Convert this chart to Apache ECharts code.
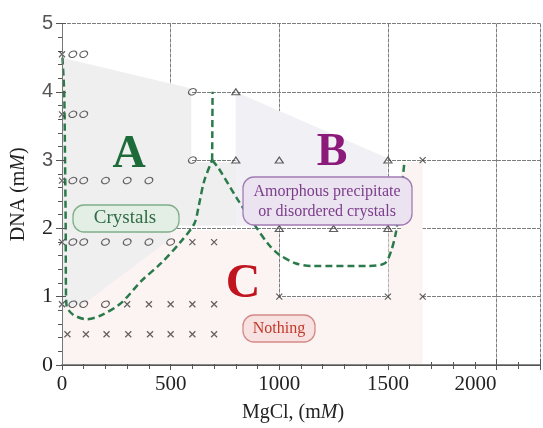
<!DOCTYPE html>
<html><head><meta charset="utf-8">
<script src="https://cdn.jsdelivr.net/npm/echarts@6/dist/echarts.min.js"></script>
<style>html,body{margin:0;padding:0;background:#fff}#c{width:543px;height:428px}</style>
</head><body><div id="c"></div>
<script>
// ---- tick labels ----
const xTickLabels = [0, 500, 1000, 1500, 2000];
const yTickLabels = [0, 1, 2, 3, 4, 5];

// ---- experimental points (MgCl mM, DNA mM) ----
const circlePts = [
  [50,4.55],[100,4.55],
  [50,3.67],[100,3.67],
  [50,2.7],[100,2.7],[200,2.7],[300,2.7],[400,2.7],
  [50,1.8],[100,1.8],[200,1.8],[300,1.8],[400,1.8],[500,1.8],
  [50,0.89],[100,0.89],[200,0.89],
  [600,4],[600,3]
];
const crossPts = [
  [0,4.55],[0,3.67],[0,2.7],
  [0,1.8],[600,1.8],[700,1.8],
  [0,0.89],[300,0.89],[400,0.89],[500,0.89],[600,0.89],[700,0.89],
  [25,0.45],[110,0.45],[205,0.45],[305,0.45],[405,0.45],[500,0.45],[600,0.45],[700,0.45],
  [1000,1],[1500,1],[1660,1],[1660,3]
];
const trianglePts = [
  [800,4],[800,3],[1000,3],[1500,3],[1000,2],[1250,2],[1500,2]
];

// ---- dashed phase boundary ----
const boundaryLeft = [
  [2,4.5],[10,4.0],[14,3.0],[17,2.0],[18,1.15],[21,0.87],[50,0.74],[113,0.67],
  [182,0.73],[273,0.91],[365,1.23],[456,1.49],[548,1.81],[609,2.07],[630,2.34],
  [654,2.69],[691,3.0]
];
const boundaryStem = [[691,3.0],[693,4.0]];
const boundaryRight = [
  [691,3.0],[723,2.87],[805,2.44],[891,2.03],[952,1.76],[998,1.62],[1074,1.49],
  [1149,1.45],[1410,1.45],[1486,1.49],[1515,1.67],[1538,1.96],[1560,2.5],[1577,3.0]
];

// ---- shaded regions ----
const regionC = [[0,0.015],[1660,0.015],[1660,2.97],[1560,2.97],[1560,1.97],[1503,1.97],
  [1503,0.985],[997,0.985],[997,1.97],[0,1.97]];
const regionA = [[0,4.5],[595,4.05],[595,2.97],[801,2.97],[801,2.04],[500,2.04],[500,1.85],
  [90,0.87],[0,0.87]];
const regionB = [[799,4.0],[1497,3.03],[1497,2.04],[799,2.04]];

const regions = [
  {pts: regionC, fill: '#fcf3f3'},
  {pts: regionA, fill: '#efefef'},
  {pts: regionB, fill: '#f1f1f5'}
];

const chart = echarts.init(document.getElementById('c'), null, {renderer: 'canvas'});
const serif = '"Liberation Serif", "DejaVu Serif", serif';
const sans = '"Liberation Sans", "DejaVu Sans", sans-serif';
const gridCol = '#7d7d7d';
const markCol = '#3a3a3a';
const green = '#2b7a4b';

function markerSeries(data, symbol, size, rotate) {
  return {
    type: 'scatter', data: data, symbol: symbol, symbolSize: size, symbolRotate: rotate || 0,
    silent: true, z: 4,
    itemStyle: {color: 'rgba(0,0,0,0)', borderColor: markCol, borderWidth: 1.2}
  };
}
function boundarySeries(data) {
  return {
    type: 'line', data: data, showSymbol: false, smooth: 0.3, silent: true, z: 3,
    lineStyle: {color: green, width: 2.5, type: [7, 4]}
  };
}

const option = {
  animation: false,
  grid: {left: 62, right: 0, top: 23.5, bottom: 60},
  xAxis: [
    {
      type: 'value', min: 0, max: 2200, interval: 500, position: 'bottom',
      name: 'MgCl, (m{i|M})', nameLocation: 'middle', nameGap: 38,
      nameTextStyle: {fontFamily: serif, fontSize: 20, color: '#222', padding: [0, 16, 0, 0],
        rich: {i: {fontFamily: serif, fontSize: 20, fontStyle: 'italic', color: '#222'}}},
      axisLine: {show: true, lineStyle: {color: '#888', width: 2}},
      axisTick: {show: true, inside: true, length: 6, lineStyle: {color: '#555'}},
      minorTick: {show: true, splitNumber: 5, length: 3, lineStyle: {color: '#555'}},
      splitLine: {show: false},
      axisLabel: {
        margin: 9, fontFamily: serif, fontSize: 21, color: '#222',
        formatter: function (v) {
          if (xTickLabels.indexOf(v) < 0) return '';
          if (v === 2000) return '{sh|' + v + '}';
          return String(v);
        },
        rich: {sh: {fontFamily: serif, fontSize: 21, color: '#222', padding: [0, 42, 0, 0]}}
      }
    },
    {
      type: 'value', min: 0, max: 2200, interval: 500, position: 'top',
      axisLine: {show: true, lineStyle: {color: '#555', width: 1}},
      axisTick: {show: true, inside: true, length: 5, lineStyle: {color: '#555'}},
      minorTick: {show: true, splitNumber: 5, length: 4, lineStyle: {color: '#555'}},
      axisLabel: {show: false},
      splitLine: {show: true, lineStyle: {color: gridCol, width: 1, type: [4, 1]}}
    }
  ],
  yAxis: [
    {
      type: 'value', min: 0, max: 5, interval: 1, position: 'left', z: 10,
      name: 'DNA (m{i|M})', nameLocation: 'middle', nameGap: 33, nameRotate: 90,
      nameTextStyle: {fontFamily: serif, fontSize: 20, color: '#222',
        rich: {i: {fontFamily: serif, fontSize: 20, fontStyle: 'italic', color: '#222'}}},
      axisLine: {show: true, lineStyle: {color: '#777', width: 1}},
      axisTick: {show: true, inside: true, length: 4, lineStyle: {color: '#555'}},
      splitLine: {show: false},
      axisLabel: {
        margin: 9, color: '#222',
        formatter: function (v) {
          if (yTickLabels.indexOf(v) < 0) return '';
          return v >= 3 ? '{s|' + v + '}' : '{t|' + v + '}';
        },
        rich: {
          s: {fontFamily: sans, fontSize: 20, color: '#555'},
          t: {fontFamily: serif, fontSize: 22, color: '#222'}
        }
      }
    },
    {
      type: 'value', min: 0, max: 5, interval: 1, position: 'right',
      axisLine: {show: true, lineStyle: {color: '#555', width: 1}},
      axisTick: {show: true, inside: true, length: 6, lineStyle: {color: '#555'}},
      minorTick: {show: true, splitNumber: 5, length: 4, lineStyle: {color: '#555'}},
      axisLabel: {show: false},
      splitLine: {show: true, lineStyle: {color: gridCol, width: 1, type: [4, 1]}}
    }
  ],
  series: [
    {
      type: 'custom', silent: true, z: 1,
      data: regions.map(function (r, i) { return [i]; }),
      renderItem: function (params, api) {
        const r = regions[api.value(0)];
        return {
          type: 'polygon',
          shape: {points: r.pts.map(function (p) { return api.coord(p); })},
          style: {fill: r.fill}
        };
      }
    },
    boundarySeries(boundaryLeft),
    boundarySeries(boundaryStem),
    boundarySeries(boundaryRight),
    markerSeries(circlePts, 'circle', [8, 6], 25),
    markerSeries(crossPts, 'path://M0,0L10,10M10,0L0,10', 6, 0),
    markerSeries(trianglePts, 'triangle', [8, 6], 0)
  ],
  graphic: {
    elements: [
      {type: 'rect', z: 100, shape: {x: 73, y: 205, width: 106, height: 27, r: 11},
        style: {fill: '#e3efe5', stroke: '#7fae89', lineWidth: 1.3}},
      {type: 'text', z: 101, style: {text: 'Crystals', x: 125, y: 218, font: '19px ' + serif,
        fill: '#2f6b45', align: 'center', verticalAlign: 'middle', textAlign: 'center', textVerticalAlign: 'middle'}},
      {type: 'rect', z: 100, shape: {x: 243, y: 177, width: 169, height: 48, r: 11},
        style: {fill: '#ece3f0', stroke: '#a17cb4', lineWidth: 1.3}},
      {type: 'text', z: 101, style: {text: 'Amorphous precipitate', x: 327, y: 192, font: '16px ' + serif,
        fill: '#7a3d8a', align: 'center', verticalAlign: 'middle', textAlign: 'center', textVerticalAlign: 'middle'}},
      {type: 'text', z: 101, style: {text: 'or disordered crystals', x: 327, y: 212, font: '16px ' + serif,
        fill: '#7a3d8a', align: 'center', verticalAlign: 'middle', textAlign: 'center', textVerticalAlign: 'middle'}},
      {type: 'rect', z: 100, shape: {x: 243, y: 315, width: 72, height: 27, r: 11},
        style: {fill: '#f8e2e1', stroke: '#d48a86', lineWidth: 1.3}},
      {type: 'text', z: 101, style: {text: 'Nothing', x: 279, y: 329, font: '16px ' + serif,
        fill: '#c0392b', align: 'center', verticalAlign: 'middle', textAlign: 'center', textVerticalAlign: 'middle'}},
      {type: 'text', z: 101, style: {text: 'A', x: 129, y: 155, font: 'bold 46px ' + serif,
        fill: '#1e6b3a', align: 'center', verticalAlign: 'middle', textAlign: 'center', textVerticalAlign: 'middle'}},
      {type: 'text', z: 101, style: {text: 'B', x: 332, y: 153, font: 'bold 46px ' + serif,
        fill: '#8b1a7a', align: 'center', verticalAlign: 'middle', textAlign: 'center', textVerticalAlign: 'middle'}},
      {type: 'text', z: 101, style: {text: 'C', x: 243, y: 285, font: 'bold 48px ' + serif,
        fill: '#c0141f', align: 'center', verticalAlign: 'middle', textAlign: 'center', textVerticalAlign: 'middle'}}
    ]
  }
};
chart.setOption(option);
</script>
</body></html>
